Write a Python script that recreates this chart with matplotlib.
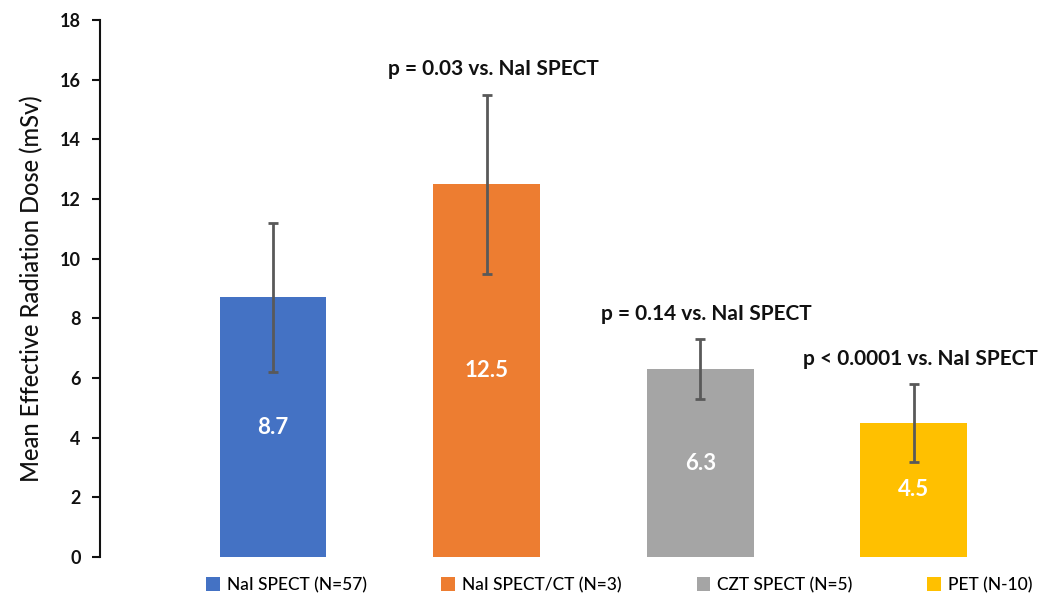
#!/usr/bin/env python
# -*- coding: utf-8 -*-
"""Mean effective radiation dose by imaging protocol."""

import matplotlib
matplotlib.use("Agg")
import matplotlib.pyplot as plt
from matplotlib.patches import Patch

# data
categories = ["NaI SPECT (N=57)", "NaI SPECT/CT (N=3)", "CZT SPECT (N=5)", "PET (N-10)"]
mean_dose = [8.7, 12.5, 6.3, 4.5]
dose_error = [2.5, 3.0, 1.0, 1.3]
p_labels = [None, "p = 0.03 vs. NaI SPECT", "p = 0.14 vs. NaI SPECT",
            "p < 0.0001 vs. NaI SPECT"]
y_ticks = [0, 2, 4, 6, 8, 10, 12, 14, 16, 18]

COLORS = ["#4472C4", "#ED7D31", "#A5A5A5", "#FFC000"]
ERR_COLOR = "#595959"
FONT = ["Lato", "DejaVu Sans"]


def main():
    plt.rcParams["font.family"] = FONT
    fig = plt.figure(figsize=(10.42, 5.99), dpi=100)
    ax = fig.add_axes([100 / 1042, 1 - 557 / 599, 942 / 1042, 537 / 599])

    x = list(range(len(categories)))
    ax.bar(x, mean_dose, width=0.5, color=COLORS, zorder=2)
    ax.errorbar(x, mean_dose, yerr=dose_error, fmt="none", ecolor=ERR_COLOR,
                elinewidth=2, capsize=3.5, capthick=2, zorder=3)

    for xi, val, err, label in zip(x, mean_dose, dose_error, p_labels):
        ax.text(xi, val / 2, "{0}".format(val), ha="center", va="center",
                color="white", fontsize=16, fontweight="bold")
        if label:
            ax.annotate(label, (xi + 0.03, val + err), xytext=(0, 11),
                        textcoords="offset points", ha="center", va="bottom",
                        fontsize=15, fontweight="bold", color="#111111")

    ax.set_xlim(-0.81, 3.6)
    ax.set_ylim(0, 18)
    ax.set_yticks(y_ticks)
    ax.set_yticklabels([str(t) for t in y_ticks], fontsize=13,
                       fontweight="bold", color="#111111")
    ax.set_xticks([])
    ax.tick_params(axis="y", direction="out", length=6, width=1.5,
                   color="#111111", pad=8)
    for side in ("top", "right", "bottom"):
        ax.spines[side].set_visible(False)
    ax.spines["left"].set_linewidth(1.5)
    ax.spines["left"].set_color("#111111")
    ax.set_ylabel("Mean Effective Radiation Dose (mSv)", fontsize=17,
                  fontweight="medium", color="#111111", labelpad=12)

    handles = [Patch(facecolor=c, edgecolor="none") for c in COLORS]
    fig.legend(handles, categories, loc="center left",
               bbox_to_anchor=(206 / 1042, 1 - 585 / 599), ncol=4,
               frameon=False, handlelength=0.8, handleheight=0.8,
               handletextpad=0.4, columnspacing=4.3,
               borderaxespad=0, borderpad=0,
               prop={"weight": "medium", "size": 12.5})

    fig.savefig("out.png", dpi=100)
    plt.close(fig)


if __name__ == "__main__":
    main()
